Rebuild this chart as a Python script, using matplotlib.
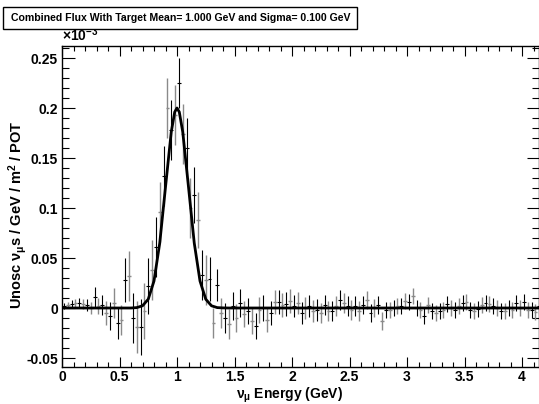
import numpy as np
import matplotlib
matplotlib.use("Agg")
import matplotlib.pyplot as plt
from matplotlib.ticker import MultipleLocator, FuncFormatter
from matplotlib.patches import Rectangle

plt.rcParams['font.family'] = ['Liberation Sans', 'DejaVu Sans']
plt.rcParams['font.weight'] = 'bold'
plt.rcParams['axes.labelweight'] = 'bold'
plt.rcParams['mathtext.fontset'] = 'custom'
plt.rcParams['mathtext.rm'] = 'Liberation Sans:bold'
plt.rcParams['mathtext.it'] = 'Liberation Sans:bold'
plt.rcParams['mathtext.bf'] = 'Liberation Sans:bold'

# histogram binning (GeV)
bin_lo = 0.0
bin_w = 1.0 / 30

# flux per bin, units of 1e-3 nu_mu / GeV / m^2 / POT
flux = [
    0.002, 0.003, 0.004, 0.005, 0.005, 0.004, 0.003, 0.000, 0.011, 0.002,
    0.003, -0.005, -0.008, 0.005, -0.015, -0.012, 0.028, 0.032, -0.010, -0.019,
    -0.019, -0.003, 0.022, 0.038, 0.061, 0.096, 0.132, 0.200, 0.178, 0.193,
    0.225, 0.174, 0.160, 0.100, 0.113, 0.088, 0.033, 0.028, 0.029, -0.015,
    0.023, -0.005, -0.010, -0.016, 0.002, -0.010, 0.005, -0.006, -0.003, -0.013,
    -0.018, -0.002, 0.000, -0.012, -0.005, 0.006, 0.006, 0.003, 0.004, 0.007,
    0.002, 0.005, -0.005, 0.000, 0.002, -0.003, -0.002, -0.005, 0.003, -0.003,
    -0.003, 0.002, 0.008, 0.005, 0.002, -0.002, 0.002, -0.003, 0.003, 0.008,
    -0.005, 0.000, 0.003, -0.013, -0.002, -0.002, 0.000, 0.002, 0.002, 0.007,
    0.006, 0.012, 0.000, -0.002, -0.008, 0.003, -0.003, -0.005, -0.003, -0.002,
    0.004, 0.000, -0.002, 0.002, 0.005, 0.006, -0.002, -0.003, -0.001, 0.003,
    0.005, 0.004, 0.002, 0.000, -0.003, -0.003, 0.000, -0.002, 0.005, 0.000,
    0.006, -0.002, -0.002, -0.004, 0.002,
]
flux_err = [
    0.003, 0.003, 0.004, 0.004, 0.005, 0.005, 0.006, 0.006, 0.010, 0.008,
    0.010, 0.012, 0.014, 0.015, 0.016, 0.015, 0.022, 0.025, 0.025, 0.026,
    0.028, 0.028, 0.028, 0.030, 0.030, 0.030, 0.030, 0.030, 0.030, 0.030,
    0.025, 0.030, 0.030, 0.030, 0.028, 0.028, 0.025, 0.025, 0.022, 0.015,
    0.016, 0.015, 0.015, 0.015, 0.014, 0.014, 0.014, 0.013, 0.013, 0.013,
    0.013, 0.013, 0.013, 0.012, 0.012, 0.012, 0.012, 0.012, 0.012, 0.012,
    0.011, 0.011, 0.011, 0.011, 0.011, 0.011, 0.011, 0.010, 0.010, 0.010,
    0.010, 0.010, 0.010, 0.010, 0.010, 0.010, 0.010, 0.010, 0.009, 0.009,
    0.009, 0.009, 0.009, 0.009, 0.008, 0.008, 0.008, 0.008, 0.008, 0.008,
    0.008, 0.008, 0.008, 0.008, 0.008, 0.008, 0.008, 0.008, 0.008, 0.008,
    0.008, 0.008, 0.008, 0.008, 0.008, 0.008, 0.008, 0.008, 0.008, 0.008,
    0.008, 0.008, 0.008, 0.008, 0.008, 0.008, 0.008, 0.008, 0.008, 0.008,
    0.008, 0.008, 0.008, 0.008, 0.008,
]

# gaussian fit curve, sampled
fit_x = [0.0, 0.60, 0.65, 0.70, 0.75, 0.80, 0.85, 0.90, 0.95, 0.98, 1.00,
         1.02, 1.05, 1.10, 1.15, 1.20, 1.25, 1.30, 1.35, 1.40, 1.45, 4.2]
fit_y = [0.0, 0.0, 0.0004, 0.0022, 0.0088, 0.027, 0.065, 0.121, 0.176, 0.196,
         0.200, 0.196, 0.176, 0.121, 0.065, 0.027, 0.0088, 0.0022, 0.0004,
         0.0001, 0.0, 0.0]

title = "Combined Flux With Target Mean= 1.000 GeV and Sigma= 0.100 GeV"

centers = bin_lo + bin_w * (np.arange(len(flux)) + 0.5)
flux = np.array(flux)
flux_err = np.array(flux_err)

W, H = 539, 404
fig = plt.figure(figsize=(W / 100, H / 100), dpi=100)
ax = fig.add_axes([62 / W, 1 - 367 / H, 1 - 62 / W, (367 - 46) / H])

even = np.arange(len(flux)) % 2 == 0
ax.errorbar(centers[even], flux[even], xerr=bin_w / 2, yerr=flux_err[even],
            fmt='none', ecolor='black', elinewidth=0.8)
ax.errorbar(centers[~even], flux[~even], xerr=bin_w / 2, yerr=flux_err[~even],
            fmt='none', ecolor='#8a8a8a', elinewidth=1.0)
ax.plot(fit_x, fit_y, color='black', lw=2.0)

ax.set_xlim(0, (W - 62) / 115)
ax.set_ylim(-0.059, 0.262)
ax.xaxis.set_major_locator(MultipleLocator(0.5))
ax.xaxis.set_minor_locator(MultipleLocator(0.1))
ax.yaxis.set_major_locator(MultipleLocator(0.05))
ax.yaxis.set_minor_locator(MultipleLocator(0.01))
fmt = FuncFormatter(lambda v, p: "%g" % round(v, 3))
ax.xaxis.set_major_formatter(fmt)
ax.yaxis.set_major_formatter(fmt)
ax.tick_params(which='both', direction='in', top=True, right=True,
               labelsize=10, width=0.8)
ax.tick_params(axis='x', which='major', length=7, pad=2.5)
ax.tick_params(axis='x', which='minor', length=3.5)
ax.tick_params(axis='y', which='major', length=9, pad=3)
ax.tick_params(axis='y', which='minor', length=5)
for s in ax.spines.values():
    s.set_linewidth(1.0)

ax.set_xlabel(r"$\nu_{\mu}$ Energy (GeV)", fontsize=10)
ax.xaxis.label.set_va('center')
ax.xaxis.set_label_coords(0.478, -0.089)
ax.set_ylabel(r"Unosc $\nu_{\mu}$s / GeV / m$^{2}$ / POT", fontsize=10.5)
ax.yaxis.label.set_va('center')
ax.yaxis.set_label_coords(-0.093, 0.473)
ax.text(0.0, 1.005, r"$\times$10$^{-3}$", transform=ax.transAxes,
        fontsize=10, ha='left', va='bottom')

fig.patches.append(Rectangle((3 / W, 1 - 29 / H), 354 / W, 22 / H,
                             transform=fig.transFigure, fc='white',
                             ec='black', lw=1.0))
fig.text(181 / W, 1 - 18 / H, title, fontsize=7.6, ha='center', va='center')

fig.savefig("out.png", dpi=100)
